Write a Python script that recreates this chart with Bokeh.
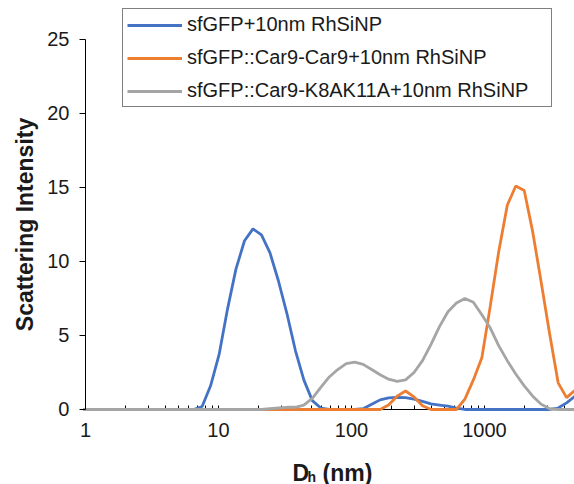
from bokeh.plotting import figure
from bokeh.models import (Range1d, FixedTicker, Legend, LegendItem, Label,
                          ColumnDataSource, NumeralTickFormatter)
from bokeh.embed import file_html
from bokeh.resources import INLINE

# Hydrodynamic diameter bins (nm)
size_nm = [0.9649, 1.117, 1.294, 1.499, 1.736, 2.01, 2.328, 2.696, 3.122, 3.615,
           4.187, 4.849, 5.615, 6.503, 7.531, 8.721, 10.1, 11.7, 13.54, 15.69,
           18.17, 21.04, 24.36, 28.21, 32.67, 37.84, 43.82, 50.75, 58.77, 68.06,
           78.82, 91.28, 105.7, 122.4, 141.8, 164.2, 190.1, 220.2, 255.0, 295.3,
           342.0, 396.1, 458.7, 531.2, 615.1, 712.4, 825.0, 955.4, 1106, 1281,
           1484, 1718, 1990, 2305, 2669, 3091, 3580, 4145, 4801]

sfgfp = [0, 0, 0, 0, 0, 0, 0, 0, 0, 0,
         0, 0, 0, 0, 0.2, 1.6, 3.7, 6.8, 9.5, 11.4,
         12.2, 11.8, 10.6, 8.7, 6.5, 4.0, 2.0, 0.6, 0.1, 0,
         0, 0, 0, 0.05, 0.35, 0.65, 0.78, 0.82, 0.8, 0.7,
         0.55, 0.38, 0.3, 0.22, 0.1, 0, 0, 0, 0, 0,
         0, 0, 0, 0, 0, 0, 0.1, 0.45, 0.9]

car9_car9 = [0, 0, 0, 0, 0, 0, 0, 0, 0, 0,
             0, 0, 0, 0, 0, 0, 0, 0, 0, 0,
             0, 0, 0, 0, 0, 0, 0, 0, 0, 0,
             0, 0, 0, 0, 0, 0, 0.3, 0.9, 1.25, 0.85,
             0.25, 0, 0, 0, 0, 0.7, 2.0, 3.5, 7.0, 10.7,
             13.8, 15.1, 14.8, 12.0, 8.6, 5.1, 1.8, 0.8, 1.3]

car9_k8ak11a = [0, 0, 0, 0, 0, 0, 0, 0, 0, 0,
                0, 0, 0, 0, 0, 0, 0, 0, 0, 0,
                0, 0, 0.05, 0.1, 0.15, 0.15, 0.3, 0.75, 1.5, 2.2,
                2.7, 3.1, 3.2, 3.05, 2.7, 2.35, 2.05, 1.9, 2.0, 2.5,
                3.3, 4.4, 5.6, 6.6, 7.2, 7.5, 7.25, 6.4, 5.5, 4.3,
                3.3, 2.4, 1.6, 0.9, 0.35, 0.05, 0, 0, 0]

series_names = ["sfGFP+10nm RhSiNP",
                "sfGFP::Car9-Car9+10nm RhSiNP",
                "sfGFP::Car9-K8AK11A+10nm RhSiNP"]
series_colors = ["#4472C4", "#ED7D31", "#A5A5A5"]

y_ticks = [0, 5, 10, 15, 20, 25]
x_ticks = [1, 10, 100, 1000]
x_minor = [2, 3, 4, 5, 6, 7, 8, 9, 20, 30, 40, 50, 60, 70, 80, 90,
           200, 300, 400, 500, 600, 700, 800, 900, 2000, 3000, 4000]

FONT = "Liberation Sans"
TXT = "#1a1a1a"
X_END = 4751

p = figure(width=574, height=484, x_axis_type="log",
           x_range=Range1d(0.2296, X_END), y_range=Range1d(-5.068, 27.635),
           output_backend="svg", toolbar_location=None,
           min_border_left=0, min_border_top=0, min_border_bottom=0,
           min_border_right=0)
p.outline_line_color = None
p.grid.visible = False
p.background_fill_color = "white"
p.border_fill_color = "white"

src = ColumnDataSource(dict(x=size_nm, a=sfgfp, b=car9_car9, c=car9_k8ak11a))
renderers = []
for col, color in zip(["a", "b", "c"], series_colors):
    r = p.line("x", col, source=src, line_color=color, line_width=2.8)
    renderers.append(r)

# y axis (placed at x = 1)
p.yaxis.fixed_location = x_ticks[0]
p.yaxis.ticker = FixedTicker(ticks=y_ticks)
p.yaxis.bounds = (y_ticks[0], y_ticks[-1])
p.yaxis.axis_line_color = "black"
p.yaxis.major_tick_out = 6
p.yaxis.major_tick_in = 0
p.yaxis.minor_tick_line_color = None
p.yaxis.major_label_text_font = FONT
p.yaxis.major_label_text_font_size = "20px"
p.yaxis.major_label_text_color = TXT
p.yaxis.major_label_standoff = 10
p.yaxis.axis_label = "Scattering Intensity"
p.yaxis.axis_label_text_font = FONT
p.yaxis.axis_label_text_font_style = "bold"
p.yaxis.axis_label_text_font_size = "23px"
p.yaxis.axis_label_text_color = TXT
p.yaxis.axis_label_standoff = 6

# x axis (placed at y = 0, drawn beneath the curves)
p.xaxis.fixed_location = y_ticks[0]
p.xaxis.level = "underlay"
p.xaxis.bounds = (x_ticks[0], X_END)
p.xaxis.ticker = FixedTicker(ticks=x_ticks, minor_ticks=x_minor)
p.xaxis.formatter = NumeralTickFormatter(format="0")
p.xaxis.axis_line_color = "black"
p.xaxis.major_tick_in = 4
p.xaxis.major_tick_out = 0
p.xaxis.minor_tick_in = 4
p.xaxis.minor_tick_out = 0
p.xaxis.major_tick_line_color = "black"
p.xaxis.minor_tick_line_color = "black"
p.xaxis.major_label_text_font = FONT
p.xaxis.major_label_text_font_size = "20px"
p.xaxis.major_label_text_color = TXT
p.xaxis.major_label_standoff = 14

# x axis label D_h (nm)
lab_kw = dict(x_units="screen", y_units="screen", text_font=FONT,
              text_font_style="bold", text_color=TXT,
              text_baseline="middle")
p.add_layout(Label(x=292, y=12, text="D", text_font_size="23px", **lab_kw))
p.add_layout(Label(x=307, y=8, text="h", text_font_size="14px", **lab_kw))
p.add_layout(Label(x=322, y=12, text="(nm)", text_font_size="23px", **lab_kw))

legend = Legend(items=[LegendItem(label=n, renderers=[r])
                       for n, r in zip(series_names, renderers)],
                location=(122, 377), orientation="vertical",
                border_line_color="black", border_line_width=1,
                background_fill_color="white", background_fill_alpha=1,
                label_text_font=FONT, label_text_font_size="20px",
                label_text_color=TXT,
                glyph_width=55, glyph_height=20, label_height=20,
                label_width=360, label_standoff=5, spacing=10,
                padding=4, margin=0)
p.add_layout(legend, "center")

open("out.html", "w").write(file_html(p, INLINE))
